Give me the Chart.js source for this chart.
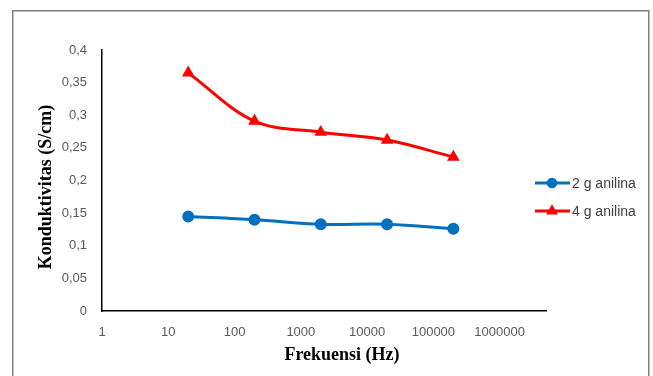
<!DOCTYPE html>
<html>
<head>
<meta charset="utf-8">
<title>Konduktivitas vs Frekuensi</title>
<script src="https://cdn.jsdelivr.net/npm/chart.js@4.4.1/dist/chart.umd.min.js"></script>
<style>
    html, body { margin: 0; padding: 0; background: #ffffff; }
    #wrap { width: 653px; height: 376px; }
</style>
</head>
<body>
<div id="wrap"><canvas id="konduktivitasChart" width="653" height="376"></canvas></div>
<script>
// Data
const frekuensi = [20, 200, 2000, 20000, 200000];
const anilina2g = [0.145, 0.140, 0.133, 0.133, 0.126];
const anilina4g = [0.365, 0.291, 0.274, 0.262, 0.236];
const seriesNames = ['2 g anilina', '4 g anilina'];
const xTicks = [1, 10, 100, 1000, 10000, 100000, 1000000];
const yTicks = [0, 0.05, 0.1, 0.15, 0.2, 0.25, 0.3, 0.35, 0.4];
const xTitle = 'Frekuensi (Hz)';
const yTitle = 'Konduktivitas (S/cm)';

// Outer frame, axis titles and legend drawn on top of the chart
const framePlugin = {
    id: 'framePlugin',
    beforeDraw(chart) {
        const ctx = chart.ctx;
        ctx.save();
        ctx.fillStyle = '#ffffff';
        ctx.fillRect(0, 0, chart.width, chart.height);
        ctx.strokeStyle = '#808080';
        ctx.lineWidth = 1.5;
        ctx.strokeRect(12.75, 10.75, 636, 400);
        ctx.restore();
    },
    afterDraw(chart) {
        const ctx = chart.ctx;
        ctx.save();
        ctx.fillStyle = '#000000';
        ctx.font = 'bold 18px "Liberation Serif"';
        ctx.textAlign = 'center';
        ctx.textBaseline = 'middle';
        ctx.fillText(xTitle, 342, 355);
        ctx.translate(46, 187);
        ctx.rotate(-Math.PI / 2);
        ctx.fillText(yTitle, 0, 0);
        ctx.restore();

        // Legend: line with marker, then label
        const rows = [183, 211];
        chart.data.datasets.forEach(function(ds, i) {
            const y = rows[i];
            ctx.save();
            ctx.strokeStyle = ds.borderColor;
            ctx.lineWidth = ds.borderWidth;
            ctx.beginPath();
            ctx.moveTo(535, y);
            ctx.lineTo(570, y);
            ctx.stroke();
            ctx.fillStyle = ds.pointBackgroundColor;
            ctx.strokeStyle = ds.pointBorderColor;
            Chart.helpers.drawPoint(ctx, {
                pointStyle: ds.pointStyle,
                radius: 3.8,
                rotation: 0,
                borderWidth: 1
            }, 552, y);
            ctx.fillStyle = '#404040';
            ctx.font = '14px "Liberation Sans"';
            ctx.textAlign = 'left';
            ctx.textBaseline = 'middle';
            ctx.fillText(ds.label, 572, y + 1);
            ctx.restore();
        });
    }
};

document.addEventListener('DOMContentLoaded', function() {
    const ctx = document.getElementById('konduktivitasChart');

    new Chart(ctx, {
        type: 'line',
        data: {
            datasets: [{
                label: seriesNames[0],
                data: frekuensi.map((f, i) => ({ x: f, y: anilina2g[i] })),
                borderColor: '#0070C0',
                backgroundColor: '#0070C0',
                pointBackgroundColor: '#0070C0',
                pointBorderColor: '#0070C0',
                pointStyle: 'circle',
                pointRadius: 4.5,
                borderWidth: 3,
                tension: 0.35,
                fill: false
            }, {
                label: seriesNames[1],
                data: frekuensi.map((f, i) => ({ x: f, y: anilina4g[i] })),
                borderColor: '#FF0000',
                backgroundColor: '#FF0000',
                pointBackgroundColor: '#FF0000',
                pointBorderColor: '#FF0000',
                pointStyle: 'triangle',
                pointRadius: 4.3,
                borderWidth: 3,
                tension: 0.35,
                fill: false
            }]
        },
        options: {
            responsive: false,
            animation: false,
            layout: {
                padding: { top: 50, right: 107, bottom: 0, left: 0 }
            },
            scales: {
                x: {
                    type: 'logarithmic',
                    min: 1,
                    max: 5000000,
                    afterFit(scale) { scale.height = 65; },
                    afterBuildTicks(scale) {
                        scale.ticks = xTicks.map(v => ({ value: v }));
                    },
                    grid: { display: false, drawTicks: false },
                    border: { display: true, color: '#000000', width: 1.5 },
                    ticks: {
                        autoSkip: false,
                        maxRotation: 0,
                        padding: 14,
                        color: '#595959',
                        font: { family: '"Liberation Sans"', size: 13 },
                        callback: value => String(value)
                    }
                },
                y: {
                    min: 0,
                    max: 0.4,
                    afterFit(scale) { scale.width = 102; },
                    afterBuildTicks(scale) {
                        scale.ticks = yTicks.map(v => ({ value: v }));
                    },
                    grid: { display: false, drawTicks: false },
                    border: { display: true, color: '#000000', width: 1.5 },
                    ticks: {
                        padding: 15,
                        color: '#595959',
                        font: { family: '"Liberation Sans"', size: 13 },
                        callback: value => String(value).replace('.', ',')
                    }
                }
            },
            plugins: {
                legend: { display: false },
                tooltip: { enabled: false }
            }
        },
        plugins: [framePlugin]
    });
});
</script>
</body>
</html>
